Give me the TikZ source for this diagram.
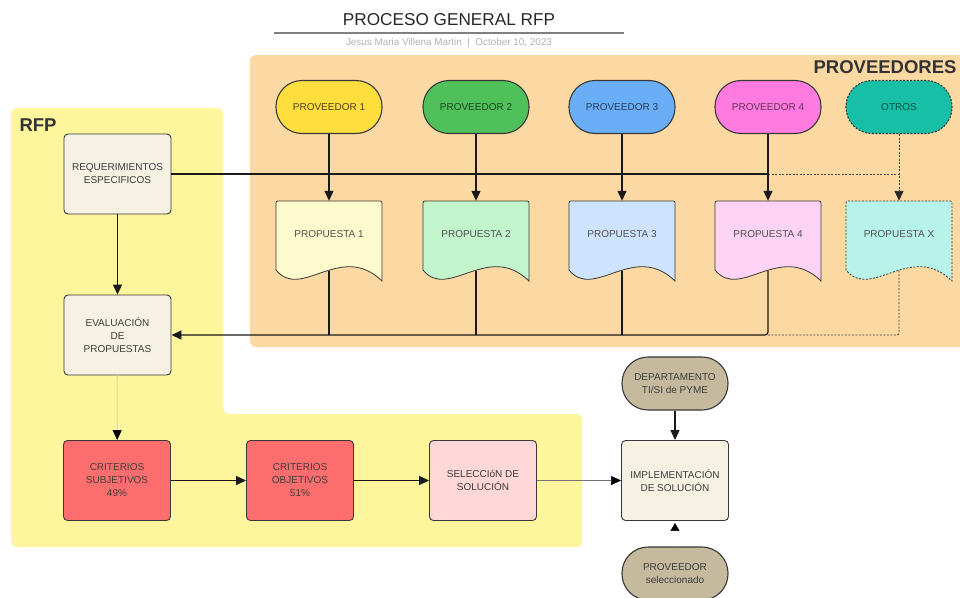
\documentclass[tikz,border=0pt]{standalone}
\usepackage{fontspec}
\setmainfont{Liberation Sans}
\usetikzlibrary{arrows.meta,calc}

\definecolor{orangearea}{HTML}{FCD9A2}
\definecolor{yellowarea}{HTML}{FEF59D}
\definecolor{cream}{HTML}{F5F1E3}
\definecolor{edge}{HTML}{383838}
\definecolor{ink}{HTML}{3C3C3C}
\definecolor{pvyellow}{HTML}{FFDE3D}
\definecolor{pvgreen}{HTML}{4FC05A}
\definecolor{pvblue}{HTML}{6AAEF8}
\definecolor{pvpink}{HTML}{FF7BDF}
\definecolor{pvteal}{HTML}{16BFA5}
\definecolor{docyellow}{HTML}{FDFACD}
\definecolor{docgreen}{HTML}{C2F5CC}
\definecolor{docblue}{HTML}{CDE3FF}
\definecolor{docpink}{HTML}{FDD3F5}
\definecolor{docteal}{HTML}{B8F3EA}
\definecolor{critred}{HTML}{FF6E6E}
\definecolor{selpink}{HTML}{FFD7D7}
\definecolor{tan}{HTML}{C6BA9E}

% document-shaped proposal: name, centre x, fill, border options, text
\newcommand\propdoc[5]{%
  \draw[fill=#3, draw=edge, line width=0.8pt, #4]
    ({#2-53},270) -- ({#2-53},205) .. controls ({#2-53},201) .. ({#2-49},201)
    -- ({#2+49},201) .. controls ({#2+53},201) .. ({#2+53},205)
    -- ({#2+53},281) .. controls ({#2+12},241) and ({#2-28},301) .. ({#2-53},270) -- cycle;
  \node[docbody] (#1) at (#2,241) {};
  \node[doctext] (#1t) at (#2,234) {#5};
}

\begin{document}
\begin{tikzpicture}[x=1pt,y=-1pt,
  txt/.style={font=\fontsize{10}{13}\selectfont, text=ink, align=center},
  box/.style={txt, draw=edge, line width=0.9pt, fill=cream, rounded corners=4pt,
    minimum width=107pt, minimum height=80pt, inner sep=0pt},
  pill/.style={txt, draw=edge, line width=1.1pt, rounded corners=26pt,
    minimum width=106pt, minimum height=53pt, inner sep=0pt},
  docbody/.style={minimum width=106pt, minimum height=80pt, inner sep=0pt},
  doctext/.style={txt, text=ink!90},
  conn/.style={draw=black!90, line width=1.2pt},
  arr/.style={conn, -{Triangle[width=9pt,length=10pt]}},
  dotted line/.style={draw=black!75, line width=0.9pt, dash pattern=on 2pt off 1.5pt},
  dotarr/.style={dotted line, -{Triangle[width=9pt,length=10pt,color=black!85]}},
  heading/.style={font=\fontsize{18.5}{22}\selectfont\bfseries, text=black!80},
]
\useasboundingbox (0,0) rectangle (960,597);
\clip (0,0) rectangle (960,597);

% swim areas
\fill[orangearea, rounded corners=6pt] (250,55) rectangle (980,347);
\fill[yellowarea, rounded corners=6pt]
  (11,108) -- (223,108) -- (223,414) -- (582,414) -- (582,547) -- (11,547) -- cycle;

% title block
\node[font=\fontsize{17.2}{20}\selectfont, text=black!85] (title) at (449,20) {PROCESO GENERAL RFP};
\draw[black!50, line width=1.2pt] (274,33) -- (624,33);
\node[font=\fontsize{9.9}{11}\selectfont, text=black!30] (byline) at (449,43)
  {Jesus Maria Villena Martin \ \textbar\ \ October 10, 2023};

\node[heading, anchor=west] (rfplabel) at (16,125) {RFP};
\node[heading, anchor=east] (provlabel) at (960,67) {PROVEEDORES};

% RFP column
\node[box] (req) at (117.5,174) {REQUERIMIENTOS\\ESPECIFICOS};
\node[box] (eval) at (117.5,335) {EVALUACIÓN\\DE\\PROPUESTAS};
\node[box, fill=critred] (subj) at (117,480.5) {CRITERIOS\\SUBJETIVOS\\49\%};
\node[box, fill=critred] (obj) at (300,480.5) {CRITERIOS\\OBJETIVOS\\51\%};
\node[box, fill=selpink] (sel) at (483,480.5) {SELECCIóN DE\\SOLUCIÓN};

% implementation
\node[box] (impl) at (675,480.5) {IMPLEMENTACIÓN\\DE SOLUCIÓN};
\node[pill, fill=tan] (dept) at (675,383.5) {DEPARTAMENTO\\TI/SI de PYME};
\node[pill, fill=tan] (psel) at (675,573.5) {PROVEEDOR\\seleccionado};

% providers
\node[pill, fill=pvyellow, text=pvyellow!30!black] (pv1) at (329,107) {PROVEEDOR 1};
\node[pill, fill=pvgreen, text=pvgreen!35!black] (pv2) at (476,107) {PROVEEDOR 2};
\node[pill, fill=pvblue, text=pvblue!35!black] (pv3) at (622,107) {PROVEEDOR 3};
\node[pill, fill=pvpink, text=pvpink!40!black] (pv4) at (768,107) {PROVEEDOR 4};
\node[pill, fill=pvteal, text=pvteal!40!black, dash pattern=on 2pt off 1.5pt] (pvx) at (899,107) {OTROS};

% proposals
\propdoc{p1}{329}{docyellow}{}{PROPUESTA 1}
\propdoc{p2}{476}{docgreen}{}{PROPUESTA 2}
\propdoc{p3}{622}{docblue}{}{PROPUESTA 3}
\propdoc{p4}{768}{docpink}{}{PROPUESTA 4}
\propdoc{px}{899}{docteal}{dash pattern=on 2pt off 1.5pt}{PROPUESTA X}

% requirements sent to every provider
\draw[conn] (req.east) -- (req.east -| p4.north);
\draw[dotted line] (req.east -| p4.north) -- (req.east -| px.north);

% providers write their proposals
\draw[arr] (pv1) -- (p1);
\draw[arr] (pv2) -- (p2);
\draw[arr] (pv3) -- (p3);
\draw[arr] (pv4) -- (p4);
\draw[dotarr] (pvx) -- (px);

% proposals collected for evaluation
\draw[conn] ($(p1.south)+(0,-10.5)$) -- (p1.south |- eval.east);
\draw[conn] ($(p2.south)+(0,-10.5)$) -- (p2.south |- eval.east);
\draw[conn] ($(p3.south)+(0,-10.5)$) -- (p3.south |- eval.east);
\draw[dotted line, rounded corners=2pt] ($(px.south)+(0,-10.5)$) -- (px.south |- eval.east) -- (p4.south |- eval.east);
\draw[arr, rounded corners=3pt] ($(p4.south)+(0,-10.5)$) -- (p4.south |- eval.east) -- (eval.east);

% RFP flow
\draw[arr] (req) -- (eval);
\draw[arr, draw=black!18, line width=0.8pt, -{Triangle[width=9pt,length=10pt,color=black]}] (eval) -- (subj);
\draw[arr] (subj) -- (obj);
\draw[arr] (obj) -- (sel);
\draw[arr, draw=black!55, line width=0.6pt, -{Triangle[width=9pt,length=10pt,color=black]}] (sel) -- (impl);
\draw[arr] (dept) -- (impl);
\draw[draw=white, line width=0.6pt, shorten >=2pt, -{Triangle[width=9pt,length=8pt,color=black]}] (psel) -- (impl);
\end{tikzpicture}
\end{document}
